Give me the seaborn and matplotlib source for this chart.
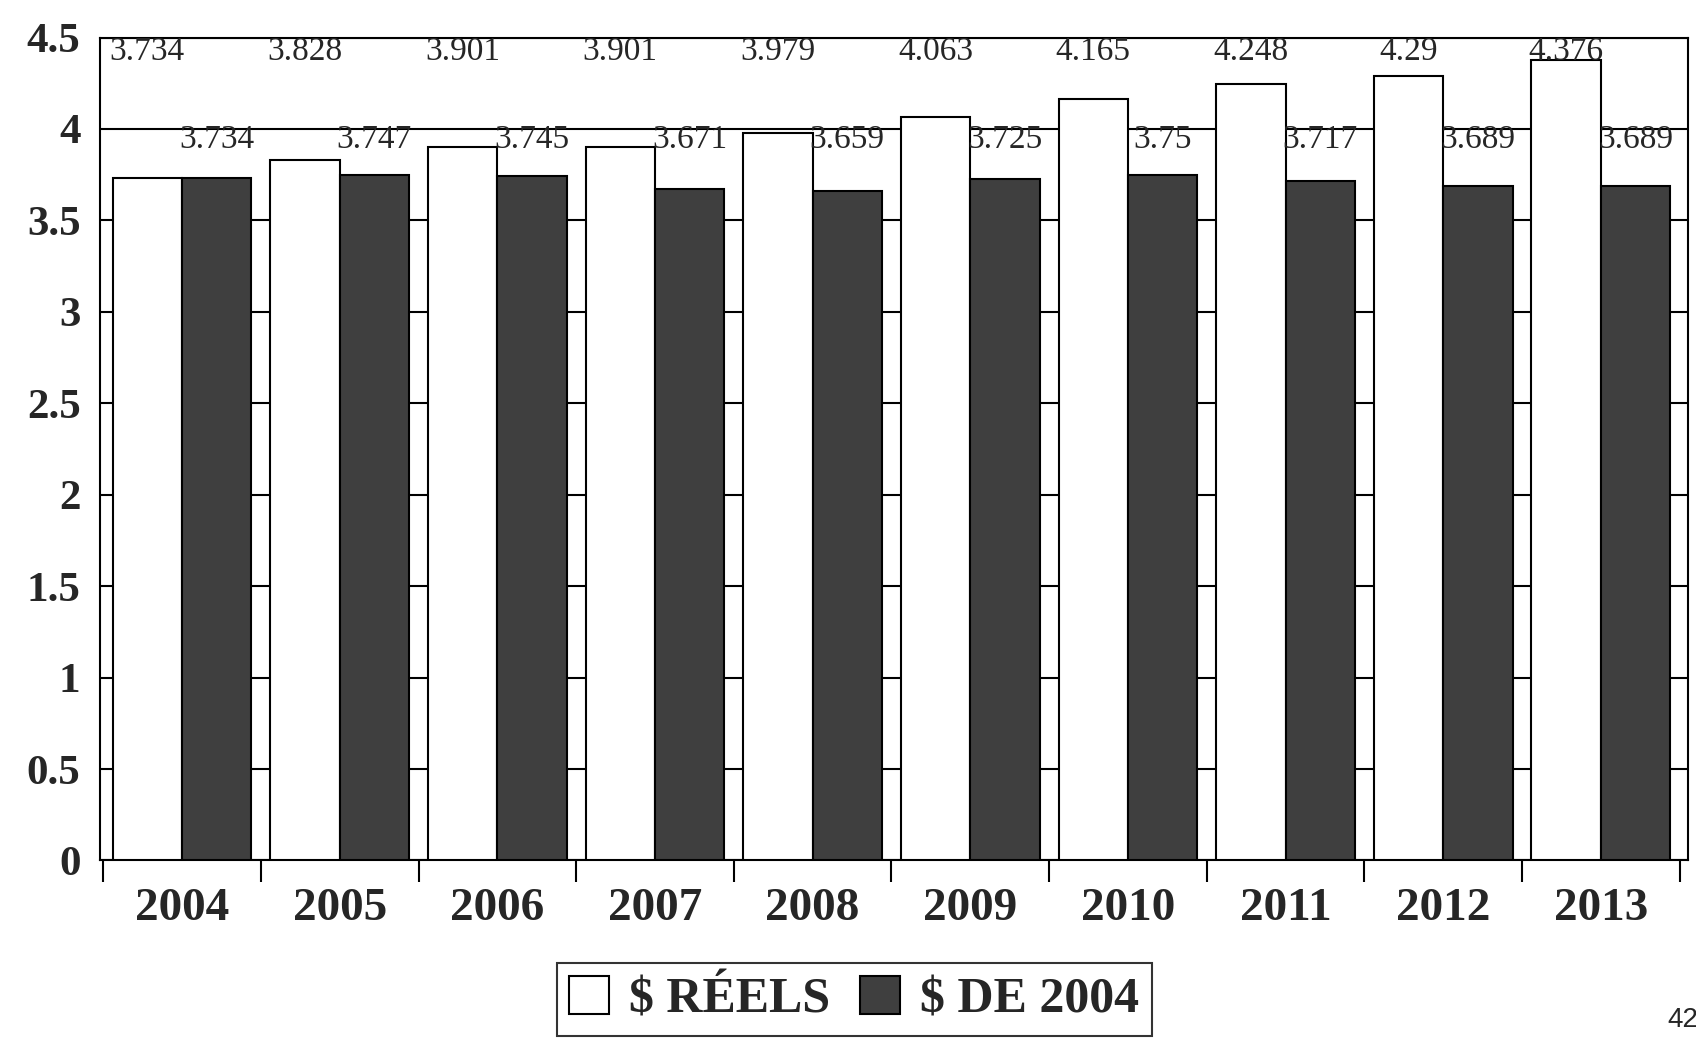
import pandas as pd
import numpy as np
import seaborn as sns
import matplotlib.pyplot as plt
from matplotlib.ticker import MultipleLocator, FixedLocator

annees = ['2004', '2005', '2006', '2007', '2008', '2009', '2010', '2011', '2012', '2013']
reels = [3.734, 3.828, 3.901, 3.901, 3.979, 4.063, 4.165, 4.248, 4.29, 4.376]
constants = [3.734, 3.747, 3.745, 3.671, 3.659, 3.725, 3.75, 3.717, 3.689, 3.689]
series = ['$ RÉELS', '$ DE 2004']
couleurs = ['#ffffff', '#3f3f3f']

df = pd.DataFrame({
    'annee': annees * 2,
    'valeur': reels + constants,
    'serie': [series[0]] * len(annees) + [series[1]] * len(annees),
})

sns.set_style('white')
plt.rcParams['font.family'] = ['Liberation Serif', 'DejaVu Serif']

fig = plt.figure(figsize=(16.96, 10.43), dpi=100)
ax = fig.add_axes([0.059, 0.175, 0.936, 0.789])

sns.barplot(data=df, x='annee', y='valeur', hue='serie', palette=couleurs,
            saturation=1, width=0.88, edgecolor='black', linewidth=1.5,
            gap=0, ax=ax, zorder=3)

# gridlines behind bars
ax.set_ylim(0, 4.5)
ax.yaxis.set_major_locator(MultipleLocator(0.5))
ax.grid(axis='y', color='black', linewidth=1.5, zorder=0)
ax.set_axisbelow(True)
ax.set_xlim(-0.52, 9.55)

# value labels, set at fixed heights like the original
for barre, val in zip(ax.containers[0], reels):
    ax.text(barre.get_x() + barre.get_width() / 2, 4.42, f'{val:g}',
            ha='center', va='center', fontsize=24, zorder=4)
for barre, val in zip(ax.containers[1], constants):
    ax.text(barre.get_x() + barre.get_width() / 2, 3.94, f'{val:g}',
            ha='center', va='center', fontsize=24, zorder=4)

ax.set_xlabel('')
ax.set_ylabel('')
ax.set_yticks(np.arange(0, 4.51, 0.5))
ax.set_yticklabels(['0', '0.5', '1', '1.5', '2', '2.5', '3', '3.5', '4', '4.5'],
                   fontsize=31, fontweight='bold')
ax.tick_params(axis='y', length=0, pad=14)
ax.set_xticks(range(len(annees)))
ax.set_xticklabels(annees, fontsize=34, fontweight='bold')
ax.tick_params(axis='x', which='major', length=0, pad=20)
ax.xaxis.set_minor_locator(FixedLocator(np.arange(-0.5, len(annees), 1.0)))
ax.tick_params(axis='x', which='minor', length=16, width=1.5, color='black',
               direction='out', bottom=True)

for cote in ['left', 'bottom', 'top', 'right']:
    ax.spines[cote].set_visible(True)
    ax.spines[cote].set_color('black')
    ax.spines[cote].set_linewidth(1.5)

leg = ax.legend(loc='upper center', bbox_to_anchor=(0.475, -0.125), ncol=2,
                prop={'weight': 'bold', 'size': 36},
                frameon=True, fancybox=False, edgecolor='black',
                handlelength=0.8, handleheight=0.8, handletextpad=0.4,
                columnspacing=0.6, borderpad=0.25, borderaxespad=0)
leg.get_frame().set_linewidth(1.5)

fig.text(0.983, 0.022, '42', fontsize=20, family='Liberation Sans', ha='left', va='center')

fig.savefig('out.png', dpi=100)
